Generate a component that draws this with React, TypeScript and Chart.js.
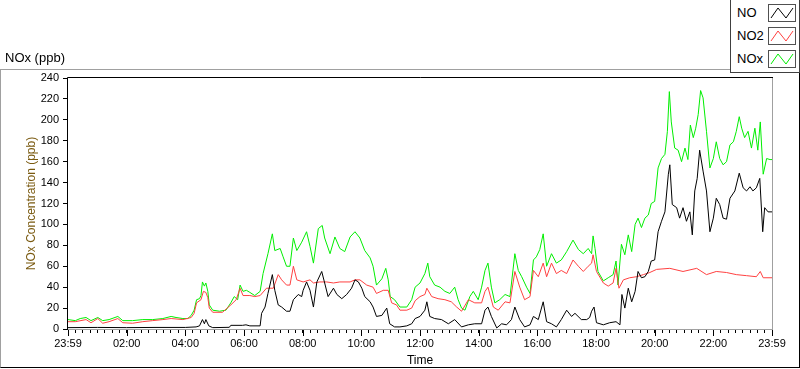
import React, { useEffect, useRef } from 'react';
import { Chart, registerables } from 'chart.js';

Chart.register(...registerables);

// Time in minutes since 23:59 (0..1440), value in ppb
const noSeries: [number, number][] = [
  [0,1.3],[60,1.5],[120,1.3],[180,1.5],[240,1.5],[262,2],[269,3],[275,9],[279,5],[282,9],[288,3],[296,1.3],[330,1.6],[333,3.5],[357,3.5],[364,4],[372,3],[393,3],[396,15],[403,21],[409,34],[418,52],[423,37],[430,23],[437,21],[447,17],[454,17],[461,28],[471,33],[478,31],[481,37],[488,45],[495,37],[502,21],[509,45],[519,55],[525,44],[532,31],[543,39],[550,33],[560,29],[570,33],[580,39],[587,47],[594,45],[601,39],[607,31],[618,26],[624,21],[631,12],[642,13],[652,20],[658,5],[668,2],[679,2],[693,3],[703,5],[710,10],[720,12],[730,18],[734,26],[740,12],[750,10],[764,9],[778,5],[791,9],[805,2],[819,4],[832,5],[846,5],[853,18],[859,21],[866,12],[877,1],[887,5],[897,4],[907,9],[914,21],[924,9],[934,2],[945,4],[952,12],[962,9],[972,26],[979,7],[989,5],[999,2],[1009,9],[1020,18],[1030,12],[1037,15],[1050,9],[1061,9],[1067,11],[1071,17],[1076,21],[1081,6],[1095,4],[1108,6],[1121,7],[1129,4],[1133,33],[1139,20],[1146,39],[1153,26],[1160,36],[1166,55],[1173,49],[1180,50],[1187,55],[1193,65],[1200,66],[1207,93],[1214,103],[1221,112],[1228,148],[1231,157],[1236,119],[1245,116],[1251,106],[1258,116],[1265,103],[1272,112],[1277,90],[1282,132],[1287,144],[1292,171],[1299,151],[1306,132],[1313,93],[1320,106],[1326,125],[1333,119],[1340,106],[1347,105],[1354,125],[1364,132],[1373,149],[1381,135],[1388,132],[1395,136],[1401,132],[1408,135],[1415,144],[1421,93],[1425,116],[1432,112],[1440,112]
];

const no2Series: [number, number][] = [
  [0,7],[15,7],[37,9],[47,6],[61,10],[71,5.5],[84,7],[102,10],[112,6],[132,5.5],[153,7],[173,8],[194,9],[211,10],[235,9],[252,11],[258,15],[263,25],[272,28],[277,36],[282,35],[286,30],[289,20],[296,16],[316,16],[333,23],[344,28],[352,39],[358,32],[372,32],[382,31],[393,32],[406,39],[420,39],[430,52],[437,47],[447,42],[454,42],[461,60],[468,47],[481,45],[495,47],[502,44],[515,45],[529,45],[543,44],[556,45],[577,45],[587,47],[597,47],[611,42],[624,40],[631,34],[645,37],[655,37],[662,25],[672,23],[679,18],[693,18],[703,20],[710,27],[720,31],[730,33],[734,39],[744,31],[757,29],[771,28],[784,26],[795,21],[805,17],[819,28],[832,25],[846,25],[853,36],[859,40],[870,21],[880,18],[894,26],[904,25],[914,55],[924,40],[934,28],[945,31],[952,56],[962,50],[972,63],[979,50],[989,63],[999,53],[1009,56],[1020,53],[1033,66],[1044,60],[1054,55],[1064,60],[1071,63],[1074,71],[1081,55],[1095,44],[1105,41],[1115,44],[1121,58],[1127,39],[1136,47],[1149,49],[1163,50],[1177,52],[1190,54],[1204,57],[1231,58],[1258,55],[1286,58],[1306,52],[1326,55],[1347,54],[1367,52],[1388,51],[1408,50],[1416,55],[1422,49],[1440,49]
];

const noxSeries: [number, number][] = [
  [0,9],[15,8],[25,10],[37,11],[47,8],[61,11],[71,8],[84,9],[102,12],[112,8],[132,8],[153,9],[173,9],[194,10],[211,12],[221,11],[235,10],[245,10],[252,13],[258,18],[263,28],[269,29],[272,32],[275,45],[279,41],[282,44],[286,36],[289,23],[296,18],[310,17],[323,18],[333,25],[340,31],[347,28],[352,42],[358,36],[365,37],[372,35],[382,32],[393,36],[399,53],[409,72],[418,91],[423,75],[434,77],[440,69],[447,60],[454,60],[461,87],[468,75],[478,83],[488,93],[495,79],[502,63],[512,96],[520,99],[525,87],[536,72],[546,88],[556,77],[566,74],[577,88],[587,93],[597,87],[607,75],[618,68],[624,60],[631,42],[642,48],[650,58],[655,47],[659,31],[668,28],[679,21],[693,21],[703,28],[710,40],[720,44],[730,53],[736,63],[740,50],[750,42],[761,40],[771,36],[781,34],[791,40],[798,28],[805,20],[812,18],[822,31],[829,36],[839,28],[846,40],[853,56],[859,63],[866,40],[873,25],[883,28],[894,33],[904,31],[914,72],[921,56],[928,50],[938,40],[945,34],[952,66],[958,69],[965,76],[972,91],[979,60],[989,72],[999,63],[1009,66],[1020,74],[1033,85],[1044,76],[1054,72],[1064,77],[1071,72],[1074,89],[1078,77],[1084,55],[1095,46],[1105,49],[1115,52],[1121,65],[1125,42],[1132,81],[1139,71],[1146,90],[1153,74],[1160,100],[1166,106],[1173,97],[1180,106],[1187,109],[1193,120],[1200,122],[1207,154],[1214,163],[1221,167],[1226,189],[1230,227],[1234,198],[1241,173],[1248,171],[1255,160],[1262,173],[1268,162],[1273,195],[1279,183],[1284,192],[1289,205],[1294,228],[1299,221],[1306,189],[1313,154],[1320,163],[1326,179],[1333,163],[1340,157],[1347,160],[1354,176],[1361,179],[1367,189],[1373,203],[1378,192],[1384,183],[1391,189],[1398,173],[1405,192],[1411,171],[1416,198],[1422,148],[1429,163],[1436,162],[1440,162]
];

const xTickLabels = ['23:59', '02:00', '04:00', '06:00', '08:00', '10:00', '12:00', '14:00', '16:00', '18:00', '20:00', '22:00', '23:59'];
const seriesNames = ['NO', 'NO2', 'NOx'];
const seriesColors = ['#000000', '#ff4040', '#00ee00'];

const FONT = '"Liberation Sans", Arial, sans-serif';

const toPoints = (s: [number, number][]) => s.map(([x, y]) => ({ x, y }));

const framePlugin = {
  id: 'plotFrame',
  beforeDatasetsDraw(chart: any) {
    const { ctx, chartArea } = chart;
    const { left, right, top, bottom } = chartArea;
    ctx.save();
    ctx.lineWidth = 1;
    ctx.strokeStyle = '#a0a0a0';
    ctx.beginPath();
    ctx.moveTo(right + 0.5, top);
    ctx.lineTo(right + 0.5, bottom + 1);
    ctx.moveTo(left - 1, bottom + 0.5);
    ctx.lineTo(right + 1, bottom + 0.5);
    ctx.stroke();
    ctx.strokeStyle = '#000000';
    ctx.beginPath();
    ctx.moveTo(left - 0.5, bottom + 1);
    ctx.lineTo(left - 0.5, top - 0.5);
    ctx.lineTo(right + 1, top - 0.5);
    ctx.stroke();
    ctx.restore();
  },
  afterDraw(chart: any) {
    const { ctx, chartArea } = chart;
    const xs = chart.scales.x;
    ctx.save();
    ctx.strokeStyle = '#000000';
    ctx.lineWidth = 1;
    ctx.beginPath();
    for (let i = 0; i < xTickLabels.length; i++) {
      const px = Math.round(xs.getPixelForValue(i * 120)) + 0.5;
      ctx.moveTo(px, chartArea.bottom + 1);
      ctx.lineTo(px, chartArea.bottom + 7);
    }
    ctx.stroke();
    ctx.restore();
  },
};

function LegendIcon({ color }: { color: string }) {
  return (
    <svg width={28} height={18} style={{ position: 'absolute', left: 0, top: 0 }}>
      <rect x={0.5} y={0.5} width={27} height={17} fill="#ffffff" stroke="#505050" strokeWidth={1} />
      <polyline points="3,14 10,4 18,14 25,4" fill="none" stroke={color} strokeWidth={1} />
    </svg>
  );
}

export default function App() {
  const canvasRef = useRef<HTMLCanvasElement | null>(null);

  useEffect(() => {
    if (!canvasRef.current) return;
    const chart = new Chart(canvasRef.current, {
      type: 'line',
      data: {
        datasets: [
          { label: seriesNames[0], data: toPoints(noSeries), borderColor: seriesColors[0], backgroundColor: seriesColors[0] },
          { label: seriesNames[1], data: toPoints(no2Series), borderColor: seriesColors[1], backgroundColor: seriesColors[1] },
          { label: seriesNames[2], data: toPoints(noxSeries), borderColor: seriesColors[2], backgroundColor: seriesColors[2] },
        ],
      },
      options: {
        animation: false,
        responsive: false,
        maintainAspectRatio: false,
        devicePixelRatio: 1,
        parsing: false as any,
        layout: { padding: { left: 0, right: 28, top: 78, bottom: 0 } },
        plugins: {
          legend: { display: false },
          tooltip: { enabled: false },
          title: { display: false },
        },
        elements: {
          point: { radius: 0 },
          line: { borderWidth: 1, tension: 0 },
        },
        scales: {
          x: {
            type: 'linear',
            min: 0,
            max: 1440,
            afterFit: (s: any) => { s.height = 40; },
            border: { display: false },
            grid: { drawOnChartArea: false, drawTicks: true, tickLength: 4, color: '#000000', tickColor: '#000000' },
            ticks: {
              stepSize: 15,
              autoSkip: false,
              maxRotation: 0,
              minRotation: 0,
              padding: 4,
              color: '#000000',
              font: { family: FONT, size: 11 },
              callback: (v: any) => {
                const n = Number(v);
                return n % 120 === 0 ? xTickLabels[n / 120] : '';
              },
            },
            title: {
              display: true,
              text: 'Time',
              color: '#000000',
              font: { family: FONT, size: 12 },
              padding: { top: 0, bottom: 1 },
            },
          },
          y: {
            min: 0,
            max: 240,
            afterFit: (s: any) => { s.width = 68; },
            border: { display: false },
            grid: { drawOnChartArea: false, drawTicks: true, tickLength: 5, color: '#000000', tickColor: '#000000' },
            ticks: {
              stepSize: 20,
              padding: 4,
              color: '#000000',
              font: { family: FONT, size: 11 },
            },
            title: {
              display: true,
              text: 'NOx Concentration (ppb)',
              color: '#7a5a10',
              font: { family: FONT, size: 12 },
              padding: { top: 24, bottom: 0 },
            },
          },
        },
      } as any,
      plugins: [framePlugin],
    });
    return () => chart.destroy();
  }, []);

  const rowTops = [4, 27, 50];

  return (
    <div style={{ position: 'fixed', left: 0, top: 0, width: 800, height: 369, overflow: 'hidden', background: '#ffffff', fontFamily: FONT }}>
      <div style={{ position: 'absolute', left: 0, top: 69, width: 800, height: 299, boxSizing: 'border-box', borderTop: '1px solid #a0a0a0', borderLeft: '1px solid #a0a0a0', borderRight: '1px solid #000000', borderBottom: '1px solid #000000' }} />
      <canvas ref={canvasRef} width={800} height={369} style={{ position: 'absolute', left: 0, top: 0, width: 800, height: 369 }} />
      <div style={{ position: 'absolute', left: 5, top: 50, fontSize: 13, lineHeight: '16px', color: '#000000' }}>NOx (ppb)</div>
      <div style={{ position: 'absolute', left: 730, top: 0, width: 70, height: 73, boxSizing: 'border-box', border: '1px solid #404040', borderTop: 'none', background: '#ffffff' }}>
        {seriesNames.map((name, i) => (
          <div key={name} style={{ position: 'absolute', left: 0, top: rowTops[i], width: 68, height: 18 }}>
            <span style={{ position: 'absolute', left: 6, top: 1, fontSize: 13, lineHeight: '16px', color: '#000000' }}>{name}</span>
            <div style={{ position: 'absolute', left: 37, top: 0, width: 28, height: 18 }}>
              <LegendIcon color={seriesColors[i]} />
            </div>
          </div>
        ))}
      </div>
    </div>
  );
}
